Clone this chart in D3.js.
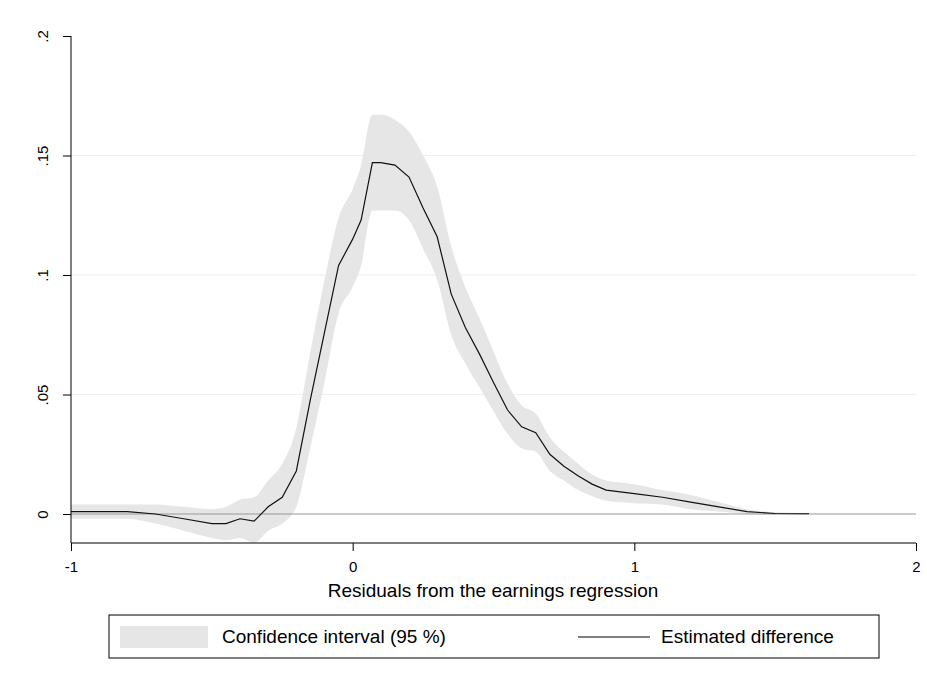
<!DOCTYPE html>
<html><head><meta charset="utf-8">
<script src="https://cdn.jsdelivr.net/npm/d3@7"></script>
<style>body{margin:0;background:#fff}text{font-family:Arial,"Liberation Sans",sans-serif}</style>
</head><body><div id="chart"></div>
<script>
// residuals (x) and estimated difference with 95% band
const resid = [-1,-0.9,-0.8,-0.7,-0.6,-0.5,-0.45,-0.4,-0.35,-0.3,-0.25,-0.2,-0.15,-0.1,-0.05,0,0.03,0.07,0.1,0.15,0.2,0.25,0.3,0.35,0.4,0.45,0.5,0.55,0.6,0.65,0.7,0.75,0.8,0.85,0.9,1.0,1.1,1.2,1.3,1.4,1.5,1.62]
const estimate = [0.001,0.001,0.001,0,-0.002,-0.004,-0.004,-0.002,-0.003,0.003,0.007,0.018,0.048,0.076,0.104,0.115,0.123,0.147,0.147,0.146,0.141,0.128,0.116,0.092,0.078,0.067,0.055,0.0435,0.0365,0.034,0.025,0.020,0.016,0.0125,0.010,0.0085,0.007,0.005,0.003,0.001,0.0002,0.0001]
const lower = [-0.002,-0.002,-0.002,-0.004,-0.007,-0.010,-0.011,-0.010,-0.012,-0.007,-0.004,0.003,0.028,0.055,0.084,0.095,0.104,0.127,0.127,0.127,0.123,0.111,0.098,0.075,0.063,0.053,0.043,0.0335,0.0275,0.026,0.018,0.014,0.010,0.0075,0.0055,0.0045,0.004,0.002,0.001,0,-0.0003,-0.0002]
const upper = [0.004,0.004,0.004,0.004,0.003,0.002,0.003,0.006,0.007,0.014,0.021,0.036,0.068,0.098,0.124,0.136,0.146,0.167,0.167,0.165,0.160,0.150,0.137,0.112,0.095,0.082,0.068,0.0545,0.0455,0.042,0.032,0.026,0.021,0.0165,0.014,0.0125,0.010,0.008,0.005,0.002,0.0007,0.0004]
const xTicks = [-1,0,1,2]
const yTicks = [0,0.05,0.1,0.15,0.2]

const width = 927, height = 678
const svg = d3.select('#chart').append('svg').attr('width', width).attr('height', height)

const x = d3.scaleLinear().domain([-1,2]).range([71,916])
const y = d3.scaleLinear().domain([0,0.2]).range([514,36])
const data = resid.map((r,i) => ({r, e: estimate[i], lo: lower[i], hi: upper[i]}))

// gridlines
svg.append('g').selectAll('line').data(yTicks.slice(1, 4)).join('line')
    .attr('x1', 71).attr('x2', 916).attr('y1', d => y(d)).attr('y2', d => y(d))
    .attr('stroke', '#eaf0f4').attr('stroke-width', 1)

svg.append('path').datum(data)
    .attr('d', d3.area().curve(d3.curveMonotoneX).x(d => x(d.r)).y0(d => y(d.lo)).y1(d => y(d.hi)))
    .attr('fill', '#e6e6e6')

svg.append('line').attr('x1', 71).attr('x2', 916).attr('y1', y(0)).attr('y2', y(0))
    .attr('stroke', '#999').attr('stroke-width', 1)

svg.append('path').datum(data)
    .attr('d', d3.line().x(d => x(d.r)).y(d => y(d.e)))
    .attr('fill', 'none').attr('stroke', '#111').attr('stroke-width', 1.2)

// axes
const xAxis = svg.append('g').attr('transform', 'translate(0,543)')
    .call(d3.axisBottom(x).tickValues(xTicks).tickSize(8).tickFormat(d => String(d)))
xAxis.select('.domain').attr('stroke', '#000').attr('d', 'M71,0H916')
xAxis.selectAll('text').attr('font-size', 15).attr('dy', '1.2em').attr('fill', '#000')

const yAxis = svg.append('g').attr('transform', 'translate(71,0)')
    .call(d3.axisLeft(y).tickValues(yTicks).tickSize(8).tickFormat(d => d === 0 ? '0' : String(d).replace(/^0/, '')))
yAxis.select('.domain').attr('stroke', '#000').attr('d', 'M0,36V543')
yAxis.selectAll('.tick text').attr('font-size', 15).attr('fill', '#000')
    .attr('x', 0).attr('dy', 0)
    .attr('transform', 'translate(-27,0) rotate(-90)')
    .attr('text-anchor', 'middle').attr('dominant-baseline', 'middle')

svg.append('text').attr('x', 493).attr('y', 597).attr('text-anchor', 'middle')
    .attr('font-size', 19).text('Residuals from the earnings regression')

// legend
const lg = svg.append('g')
lg.append('rect').attr('x', 109).attr('y', 615).attr('width', 770).attr('height', 43)
    .attr('fill', '#fff').attr('stroke', '#000')
lg.append('rect').attr('x', 120).attr('y', 626).attr('width', 88).attr('height', 22).attr('fill', '#e6e6e6')
lg.append('text').attr('x', 222).attr('y', 643).attr('font-size', 19).text('Confidence interval (95 %)')
lg.append('line').attr('x1', 578).attr('x2', 650).attr('y1', 637).attr('y2', 637).attr('stroke', '#000')
lg.append('text').attr('x', 661).attr('y', 643).attr('font-size', 19).text('Estimated difference')
</script></body></html>
